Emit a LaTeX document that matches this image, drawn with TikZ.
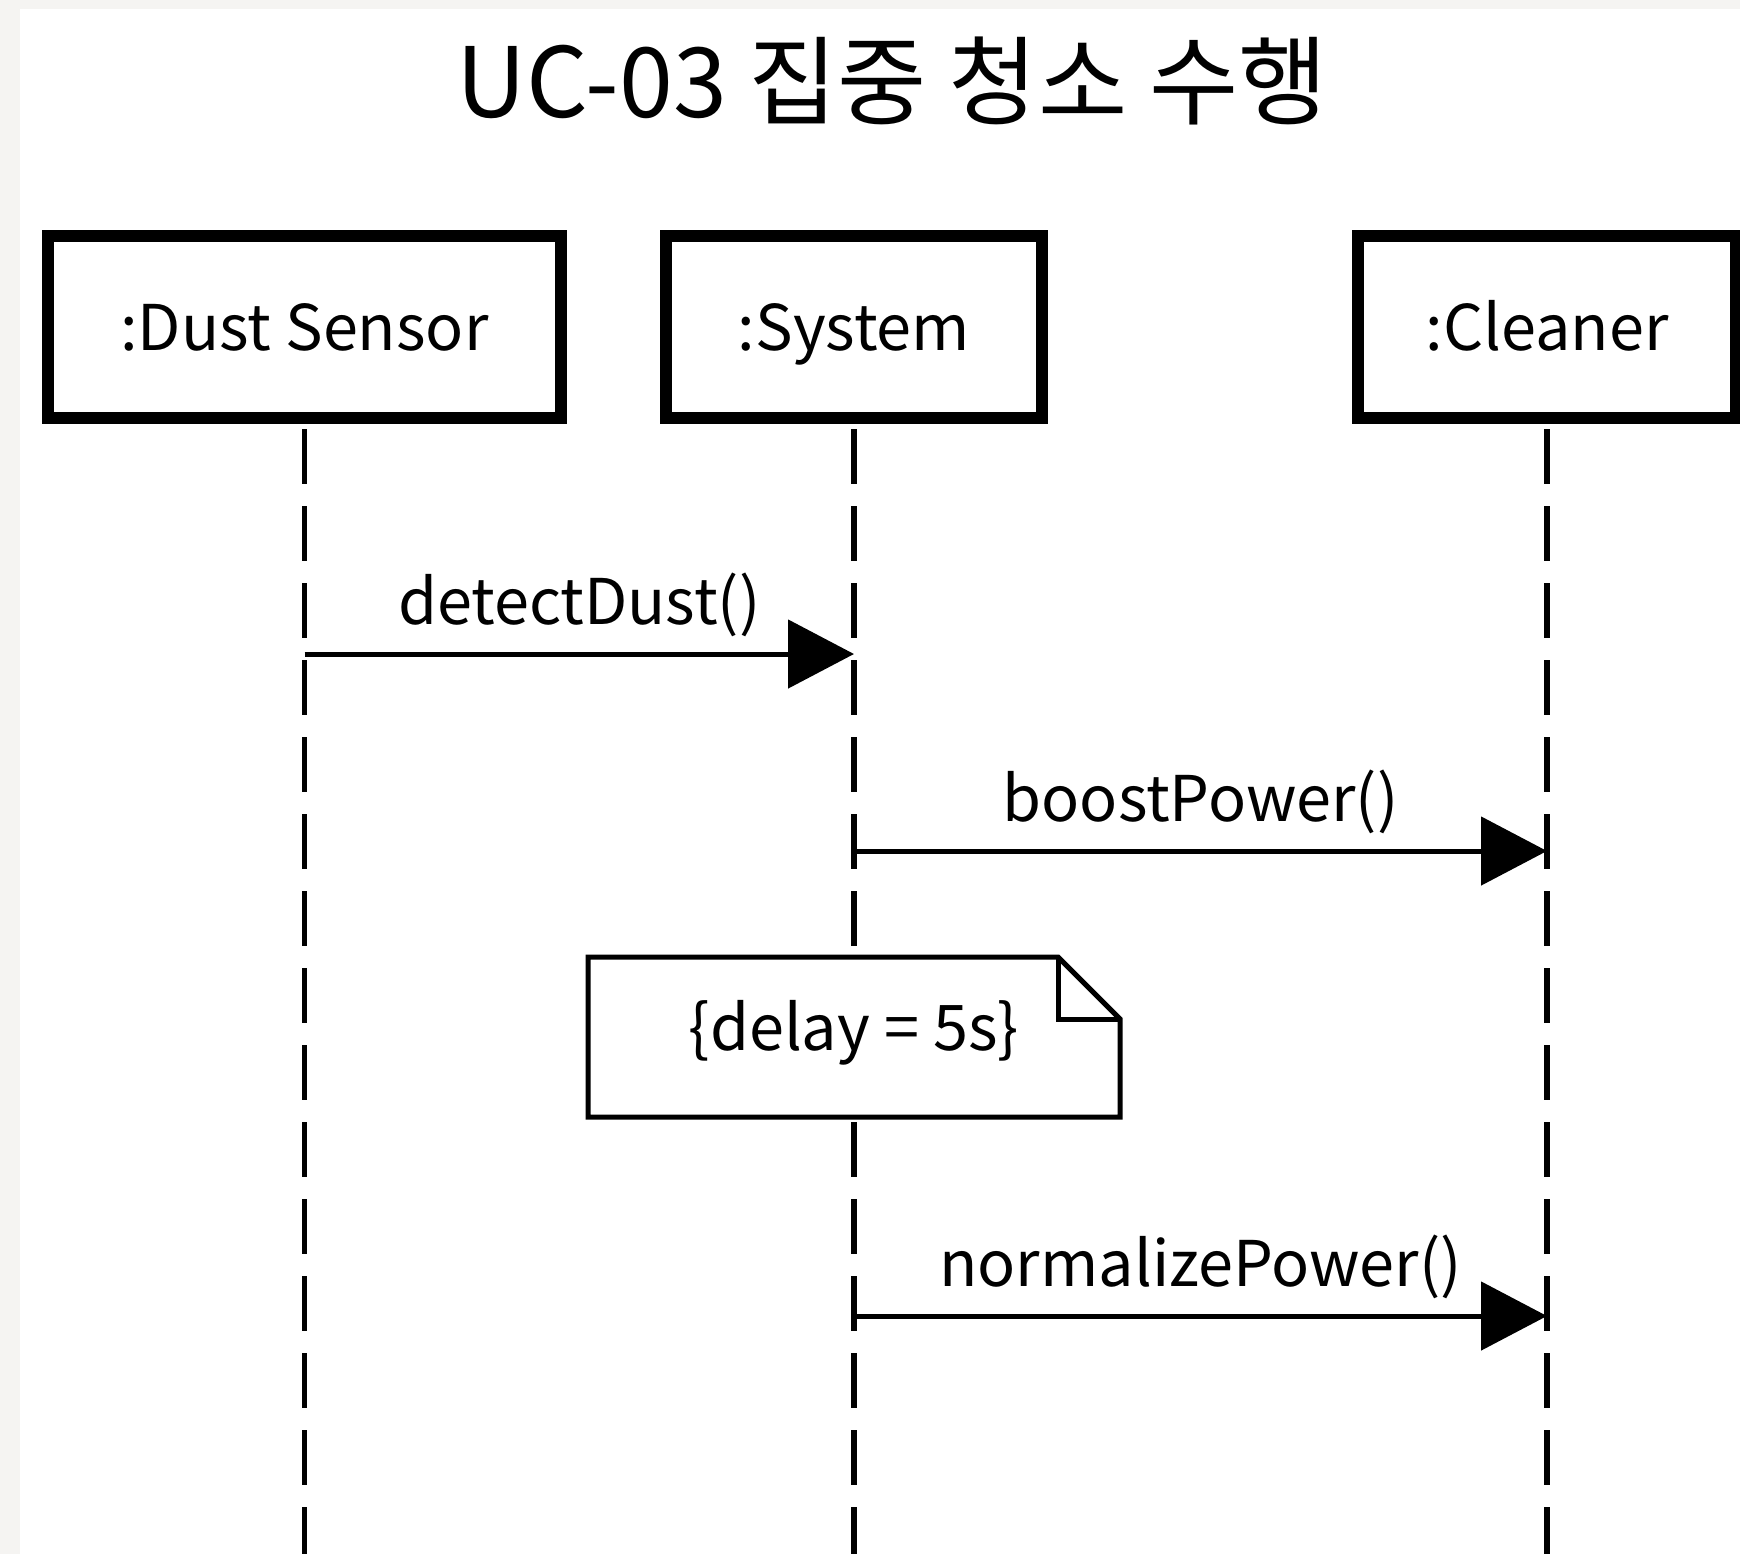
\documentclass[tikz,border=0pt]{standalone}
\usepackage{fontspec}
\setmainfont{Noto Sans CJK KR}
\usetikzlibrary{arrows.meta}
\definecolor{pagegray}{HTML}{F5F4F2}
\newcommand{\labelfont}{\fontsize{31.5}{38}\selectfont}
\tikzset{
  objbox/.style={draw, line width=6pt, fill=white, minimum height=91pt,
    inner sep=0pt, text height=23pt, text depth=0pt, font=\labelfont},
  lifeline/.style={line width=2.8pt, dash pattern=on 27.5pt off 11pt, dash phase=36pt},
  msg/.style={line width=2.5pt, -{Triangle[length=33pt,width=34pt]}},
  msglabel/.style={font=\labelfont, anchor=base, yshift=15pt, inner sep=0pt},
  notebox/.style={line width=2.5pt, line join=miter},
}

\begin{document}
\begin{tikzpicture}[x=0.5pt,y=-0.5pt]
\useasboundingbox (0,0) rectangle (1740,1554);
\fill[pagegray] (0,0) rectangle (1740,1554);
\fill[white] (20,9) rectangle (1740,1554);
\node[font=\fontsize{48.5}{58}\selectfont, anchor=base] (title) at (892,117) {UC-03 집중 청소 수행};
\node[objbox, minimum width=256.5pt] (dust) at (304.5,327) {:Dust Sensor};
\node[objbox, minimum width=188pt] (sys) at (854,327) {:System};
\node[objbox, minimum width=189pt] (cleaner) at (1547,327) {:Cleaner};
\coordinate (bottom) at (0,1554);
\draw[lifeline] (dust.south) -- (dust.south |- bottom);
\draw[lifeline] (sys.south) -- (sys.south |- bottom);
\draw[lifeline] (cleaner.south) -- (cleaner.south |- bottom);
\coordinate (m1) at (0,654);
\coordinate (m2) at (0,851);
\coordinate (m3) at (0,1316);
\draw[msg] (dust.south |- m1) -- (sys.south |- m1) node[msglabel, midway] (detect) {detectDust()};
\draw[msg] (sys.south |- m2) -- (cleaner.south |- m2) node[msglabel, midway] (boost) {boostPower()};
\filldraw[notebox, fill=white] (588,957) -- (1058,957) -- (1120,1019) -- (1120,1117) -- (588,1117) -- cycle;
\draw[notebox] (1058,957) -- (1058,1019) -- (1120,1019);
\node[font=\labelfont] (delay) at (854,1033) {\{delay = 5s\}};
\draw[msg] (sys.south |- m3) -- (cleaner.south |- m3) node[msglabel, midway] (normalize) {normalizePower()};
\end{tikzpicture}
\end{document}
